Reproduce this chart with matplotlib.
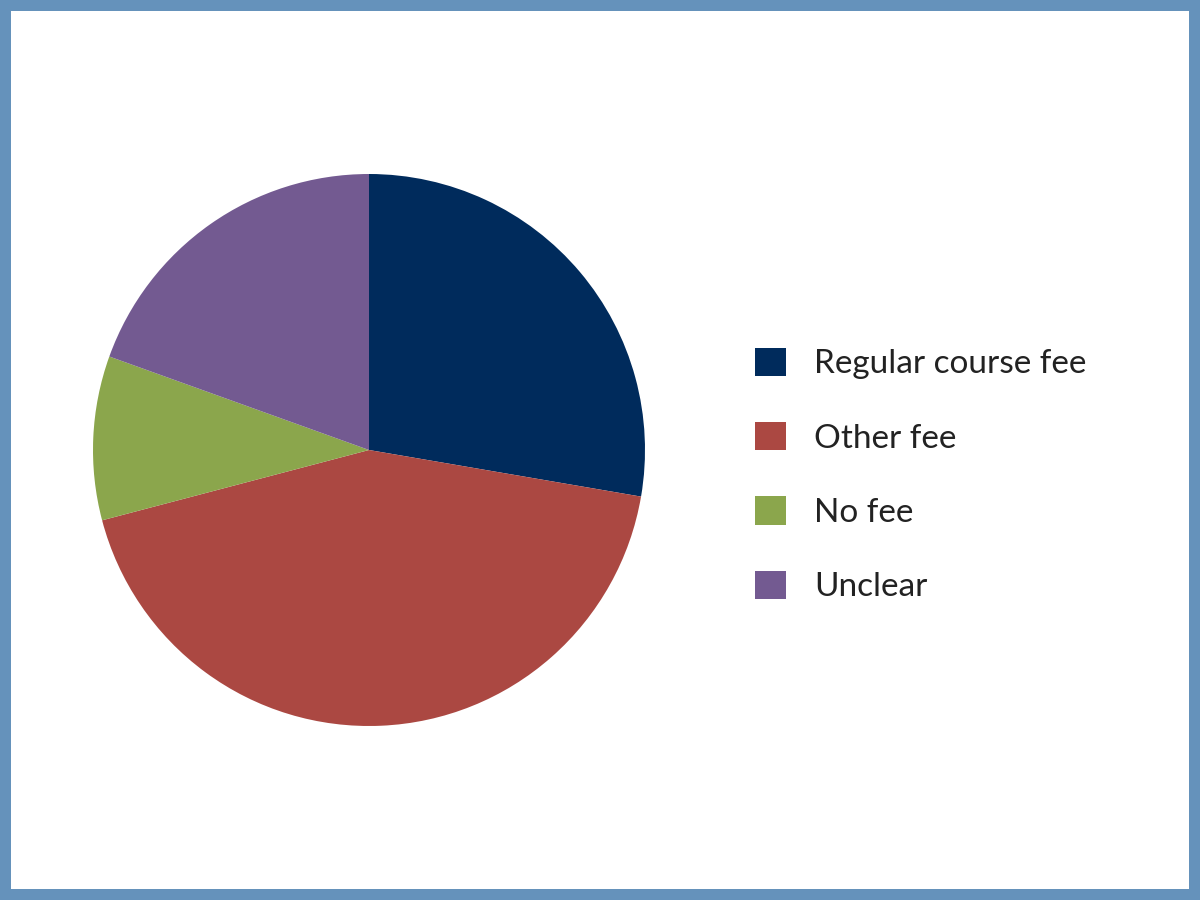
import matplotlib.pyplot as plt
from matplotlib.patches import Rectangle, Patch

# Data
labels = ['Regular course fee', 'Other fee', 'No fee', 'Unclear']
shares = [27.7, 43.2, 9.6, 19.5]
colors = ['#002b5c', '#ab4842', '#8ba64c', '#735a91']

W, H = 1200, 900
fig = plt.figure(figsize=(12, 9), dpi=100, facecolor='#6592bb')

# white panel inside the blue frame
b = 11
fig.patches.append(Rectangle((b / W, b / H), 1 - 2 * b / W, 1 - 2 * b / H,
                             transform=fig.transFigure, facecolor='white',
                             edgecolor='none', zorder=-5))

# pie: center (369, 450), radius ~276 px
cx, cy, r = 369, 450, 276
ax = fig.add_axes([(cx - r) / W, (H - cy - r) / H, 2 * r / W, 2 * r / H])
ax.pie(shares, colors=colors, startangle=90, counterclock=False,
       radius=1, wedgeprops=dict(linewidth=0))
ax.set_xlim(-1, 1)
ax.set_ylim(-1, 1)
ax.set_aspect('equal')
ax.axis('off')
ax.set_zorder(2)

handles = [Patch(facecolor=c, edgecolor='none') for c in colors]
leg = fig.legend(handles, labels, loc='center left',
                 bbox_to_anchor=(725 / W, (H - 475) / H),
                 frameon=False, handlelength=0.93, handleheight=0.93,
                 handletextpad=0.84, labelspacing=1.28,
                 prop=dict(family='Lato', weight='normal', size=24))
for t in leg.get_texts():
    t.set_color('#222222')

fig.savefig('out.png', dpi=100, facecolor=fig.get_facecolor())
